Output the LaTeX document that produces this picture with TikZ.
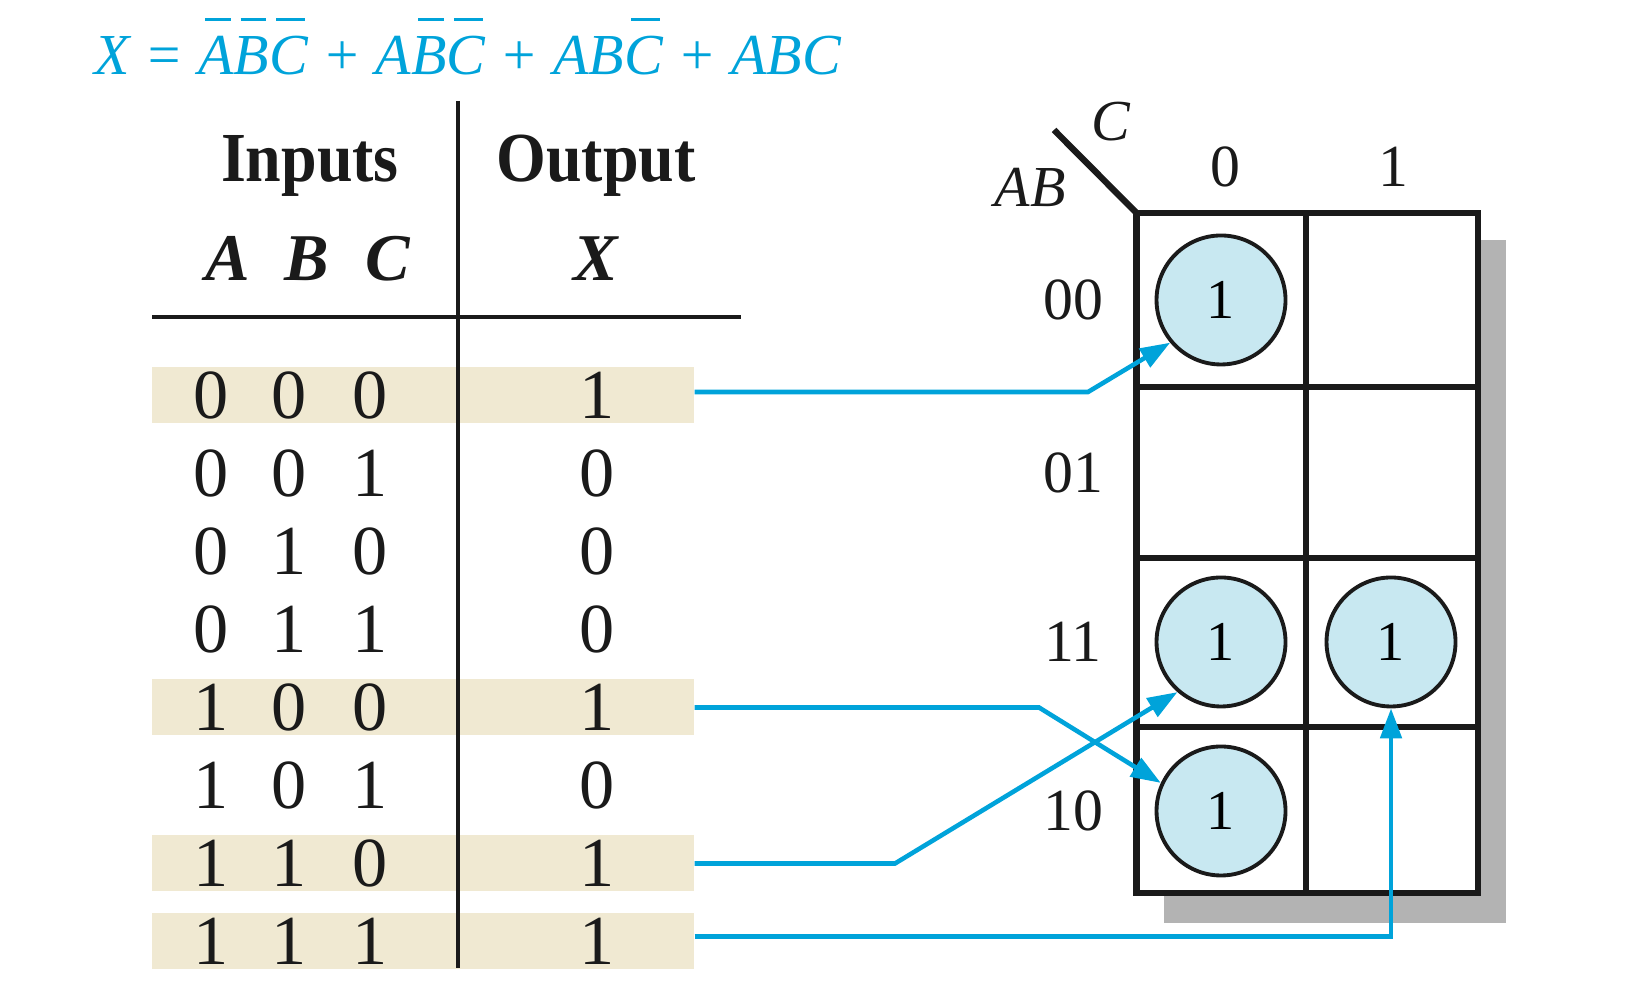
\documentclass[tikz,border=0pt]{standalone}
\usepackage{fontspec}
\setmainfont{Liberation Serif}
\usetikzlibrary{arrows.meta}
\definecolor{eqblue}{HTML}{00A3DA}
\definecolor{rowtan}{HTML}{F0E9D2}
\definecolor{cellblue}{HTML}{C8E8F1}
\definecolor{mapshadow}{HTML}{B3B3B3}
\definecolor{inkblack}{HTML}{1A1A1A}
\def\nbar#1{\setbox0\hbox{#1}\rlap{\kern2pt\raise0.93em\hbox{\vrule width\dimexpr\wd0-2.8pt\relax height 1pt}}\box0\relax}
\tikzset{
	digit/.style={font=\fontsize{20}{24}\selectfont, text=inkblack, inner sep=0pt, anchor=base},
	head/.style={font=\fontsize{20}{24}\selectfont\bfseries, text=inkblack, inner sep=0pt, anchor=base},
	subhead/.style={font=\fontsize{19}{23}\selectfont\bfseries\itshape, text=inkblack, inner sep=0pt, anchor=base},
	shade/.style={fill=rowtan, minimum width=5.42cm, minimum height=0.56cm, inner sep=0pt},
	rule/.style={line width=1pt, color=inkblack},
	grid/.style={line width=1.8pt, color=inkblack},
	maplabel/.style={font=\fontsize{17}{20}\selectfont, text=inkblack, inner sep=0pt},
	one/.style={circle, draw=inkblack, line width=1.1pt, fill=cellblue, minimum size=1.29cm, inner sep=0pt, font=\fontsize{16}{19}\selectfont},
	link/.style={draw=eqblue, line width=1.3pt, -{Triangle[length=8.5pt,width=6pt]}},
}

\begin{document}
\begin{tikzpicture}
		%%%%% START %%%%%
		\useasboundingbox (0, 0) rectangle (16.32, 10);
		
		\node[anchor=base west, inner sep=0pt, text=eqblue, font=\fontsize{16.5}{20}\selectfont\itshape] (eqn) at (0.94, 9.25) {X = \nbar{A}\nbar{B}\nbar{C} + A\nbar{B}\nbar{C} + AB\nbar{C} + ABC};
		
		\node[shade] (r0) at (4.23, 6.045) {};
		\node[shade] (r4) at (4.23, 2.925) {};
		\node[shade] (r6) at (4.23, 1.365) {};
		\node[shade] (r7) at (4.23, 0.585) {};
		
		\draw[rule] (4.58, 8.99) -- (4.58, 0.32);
		\draw[rule] (1.52, 6.83) -- (7.41, 6.83);
		
		\node[head] (inputs) at (3.10, 8.18) {\scalebox{0.91}[1]{Inputs}};
		\node[head] (output) at (5.96, 8.18) {\scalebox{0.91}[1]{Output}};
		\node[subhead] (ha) at (2.28, 7.19) {A};
		\node[subhead] (hb) at (3.07, 7.19) {B};
		\node[subhead] (hc) at (3.88, 7.19) {C};
		\node[subhead] (hx) at (5.96, 7.19) {X};
		
		\node[digit] (a0) at (2.11, 5.81) {0};
		\node[digit] (b0) at (2.89, 5.81) {0};
		\node[digit] (c0) at (3.70, 5.81) {0};
		\node[digit] (x0) at (5.97, 5.81) {1};
		
		\node[digit] (a1) at (2.11, 5.03) {0};
		\node[digit] (b1) at (2.89, 5.03) {0};
		\node[digit] (c1) at (3.70, 5.03) {1};
		\node[digit] (x1) at (5.97, 5.03) {0};
		
		\node[digit] (a2) at (2.11, 4.25) {0};
		\node[digit] (b2) at (2.89, 4.25) {1};
		\node[digit] (c2) at (3.70, 4.25) {0};
		\node[digit] (x2) at (5.97, 4.25) {0};
		
		\node[digit] (a3) at (2.11, 3.47) {0};
		\node[digit] (b3) at (2.89, 3.47) {1};
		\node[digit] (c3) at (3.70, 3.47) {1};
		\node[digit] (x3) at (5.97, 3.47) {0};
		
		\node[digit] (a4) at (2.11, 2.69) {1};
		\node[digit] (b4) at (2.89, 2.69) {0};
		\node[digit] (c4) at (3.70, 2.69) {0};
		\node[digit] (x4) at (5.97, 2.69) {1};
		
		\node[digit] (a5) at (2.11, 1.91) {1};
		\node[digit] (b5) at (2.89, 1.91) {0};
		\node[digit] (c5) at (3.70, 1.91) {1};
		\node[digit] (x5) at (5.97, 1.91) {0};
		
		\node[digit] (a6) at (2.11, 1.13) {1};
		\node[digit] (b6) at (2.89, 1.13) {1};
		\node[digit] (c6) at (3.70, 1.13) {0};
		\node[digit] (x6) at (5.97, 1.13) {1};
		
		\node[digit] (a7) at (2.11, 0.35) {1};
		\node[digit] (b7) at (2.89, 0.35) {1};
		\node[digit] (c7) at (3.70, 0.35) {1};
		\node[digit] (x7) at (5.97, 0.35) {1};
		
		\fill[mapshadow] (11.64, 0.77) rectangle (15.06, 7.60);
		\draw[grid, fill=white] (11.365, 1.07) rectangle (14.78, 7.87);
		\draw[grid] (13.06, 1.07) -- (13.06, 7.87);
		\draw[grid] (11.365, 6.13) -- (14.78, 6.13);
		\draw[grid] (11.365, 4.42) -- (14.78, 4.42);
		\draw[grid] (11.365, 2.73) -- (14.78, 2.73);
		\draw[grid] (10.54, 8.70) -- (11.365, 7.87);
		
		\node[maplabel, font=\fontsize{16.5}{20}\selectfont\itshape] (lab) at (10.30, 8.13) {AB};
		\node[maplabel, font=\fontsize{16.5}{20}\selectfont\itshape] (lc) at (11.11, 8.78) {C};
		\node[maplabel] (col0) at (12.25, 8.335) {0};
		\node[maplabel] (col1) at (13.93, 8.335) {1};
		\node[maplabel] (row00) at (10.73, 7.00) {00};
		\node[maplabel] (row01) at (10.73, 5.27) {01};
		\node[maplabel] (row11) at (10.73, 3.58) {11};
		\node[maplabel] (row10) at (10.73, 1.89) {10};
		
		\node[one] (m000) at (12.21, 7.00) {1};
		\node[one] (m110) at (12.21, 3.58) {1};
		\node[one] (m111) at (13.91, 3.58) {1};
		\node[one] (m100) at (12.21, 1.89) {1};
		
		\coordinate (bend0) at (10.88, 6.08);
		\coordinate (bend4) at (10.39, 2.925);
		\coordinate (bend6) at (8.95, 1.365);
		
		\draw[link] ([yshift=0.35mm]r0.east) -- (bend0) -- (m000.220);
		\draw[link] (r4.east) -- (bend4) -- (m100.155);
		\draw[link] (r6.east) -- (bend6) -- (m110.229);
		\draw[link] ([yshift=0.5mm]r7.east) -| (m111.south);
		
		%%%%% END %%%%%
\end{tikzpicture}
\end{document}
